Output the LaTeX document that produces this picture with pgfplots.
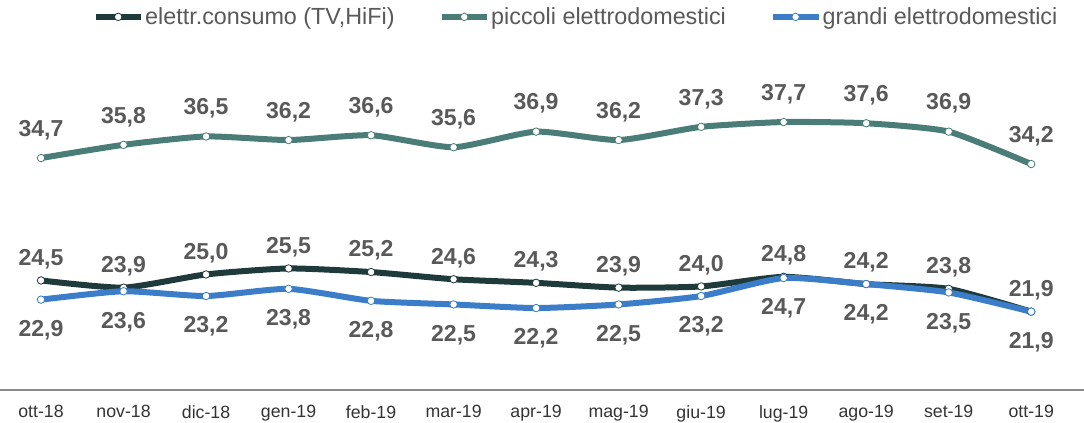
\documentclass[border=0pt]{standalone}
\usepackage{fontspec}
\setmainfont{Liberation Sans}
\usepackage{pgfplots}
\pgfplotsset{compat=1.18}
\definecolor{cA}{HTML}{1F3A3B}
\definecolor{cB}{HTML}{4A7C78}
\definecolor{cC}{HTML}{3B7DC8}
\definecolor{lab}{HTML}{595959}
\begin{document}
\begin{tikzpicture}
\begin{axis}[
 scale only axis, width=813pt, height=292.5pt,
 xmin=-0.497, xmax=12.64, ymin=15.37, ymax=47.87,
 axis x line*=bottom, axis y line=none,
 x axis line style={color=black!45, line width=1.1pt, -},
 xtick={0,...,12},
 xticklabels={ott-18,nov-18,dic-18,gen-19,feb-19,mar-19,apr-19,mag-19,giu-19,lug-19,ago-19,set-19,ott-19},
 major tick length=0pt,
 xticklabel style={font=\fontsize{13.3}{15}\selectfont, text=black!80, yshift=-8pt},
 clip=false,
 legend style={at={(0.531,0.985)}, anchor=north, draw=none, fill=none, legend columns=3,
   font=\fontsize{17.5}{20}\selectfont, text=lab, inner sep=0pt,
   /tikz/every even column/.append style={column sep=32pt},
   nodes={inner sep=1pt}},
 legend image code/.code={\draw[#1,mark repeat=2,mark phase=2] plot coordinates {(0pt,0pt) (17pt,0pt) (34pt,0pt)};},
 legend cell align=left,
 every axis plot/.append style={smooth, tension=0.35, line width=4.5pt, mark=*, mark size=2.8pt},
 nodes near coords={\bfseries\pgfmathprintnumber[assume math mode=true,fixed,fixed zerofill,precision=1,use comma]{\pgfplotspointmeta}},
 every node near coord/.append style={font=\fontsize{17.3}{19}\selectfont\bfseries, text=lab, anchor=center},
]
\addplot[cA, mark options={fill=white, draw=cA, line width=0.6pt},
  every node near coord/.append style={yshift=16pt}]
 coordinates {(0,24.5)(1,23.9)(2,25.0)(3,25.5)(4,25.2)(5,24.6)(6,24.3)(7,23.9)(8,24.0)(9,24.8)(10,24.2)(11,23.8)(12,21.9)};
\addlegendentry{elettr.consumo (TV,HiFi)}
\addplot[cB, mark options={fill=white, draw=cB, line width=0.6pt},
  every node near coord/.append style={yshift=21pt}]
 coordinates {(0,34.7)(1,35.8)(2,36.5)(3,36.2)(4,36.6)(5,35.6)(6,36.9)(7,36.2)(8,37.3)(9,37.7)(10,37.6)(11,36.9)(12,34.2)};
\addlegendentry{piccoli elettrodomestici}
\addplot[cC, mark options={fill=white, draw=cC, line width=0.6pt},
  every node near coord/.append style={yshift=-23pt}]
 coordinates {(0,22.9)(1,23.6)(2,23.2)(3,23.8)(4,22.8)(5,22.5)(6,22.2)(7,22.5)(8,23.2)(9,24.7)(10,24.2)(11,23.5)(12,21.9)};
\addlegendentry{grandi elettrodomestici}
\end{axis}
\pgfresetboundingbox
\useasboundingbox (0pt,-24pt) rectangle (813pt,292.5pt);
\end{tikzpicture}
\end{document}
